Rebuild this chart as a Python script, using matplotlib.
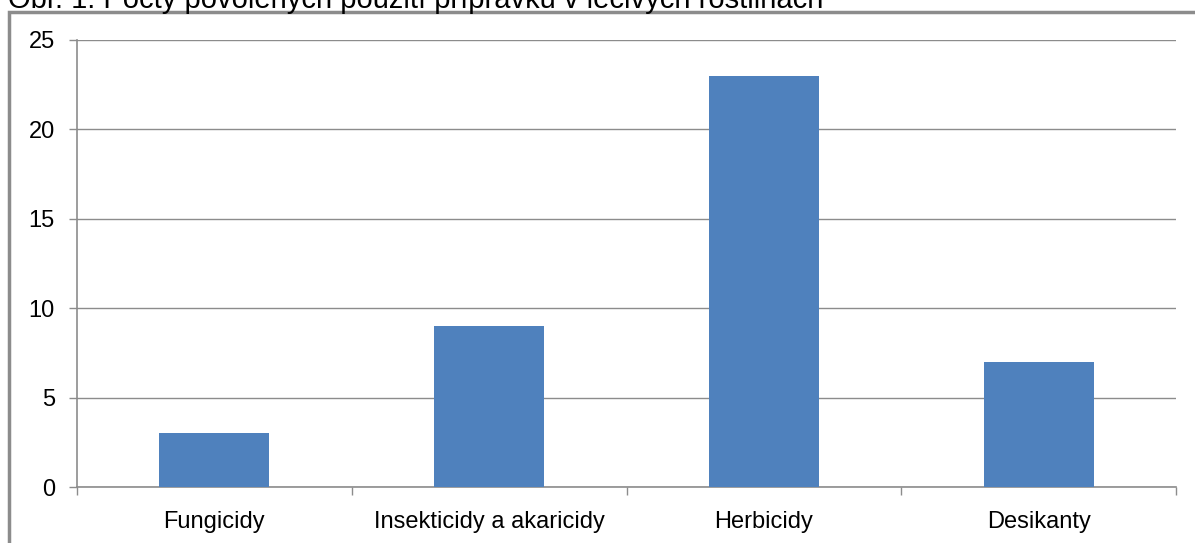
import matplotlib
matplotlib.use("Agg")
import matplotlib.pyplot as plt
from matplotlib.patches import Rectangle

# pocty povolenych pouziti pripravku
categories = ["Fungicidy", "Insekticidy a akaricidy", "Herbicidy", "Desikanty"]
counts = [3, 9, 23, 7]
yticks = [0, 5, 10, 15, 20, 25]
caption = "Obr. 1: Počty povolených použití přípravků v léčivých rostlinách"

plt.rcParams['font.family'] = ['Liberation Sans', 'DejaVu Sans']

fig = plt.figure(figsize=(11.95, 5.43), dpi=100)
W, H = 1195, 543

# caption, top half cut off by the figure edge
fig.text(8 / W, 1 - 8 / H, caption, fontsize=21, ha='left', va='baseline', color='black')

# chart frame
fig.patches.append(Rectangle((9 / W, -0.1), 1.2, (H - 12) / H + 0.1, transform=fig.transFigure,
                             fill=False, edgecolor='#8c8c8c', linewidth=2.5, zorder=0))

ax = fig.add_axes([77 / W, 1 - 487 / H, (1176 - 77) / W, (487 - 40) / H])
x = range(len(categories))
ax.bar(x, counts, width=0.4, color='#4f81bd', zorder=3)

ax.set_xlim(-0.5, len(categories) - 0.5)
ax.set_ylim(0, 25)
ax.set_yticks(yticks)
ax.yaxis.grid(True, color='#8c8c8c', linewidth=1)
ax.set_axisbelow(True)

ax.set_xticks([i - 0.5 for i in range(len(categories) + 1)], minor=False)
ax.set_xticklabels([])
ax.set_xticks(list(x), minor=True)
ax.set_xticklabels(categories, minor=True, fontsize=17)
ax.tick_params(axis='x', which='minor', length=0, pad=17)
ax.tick_params(axis='x', which='major', length=6, color='#8c8c8c', width=1)
ax.tick_params(axis='y', length=6, color='#8c8c8c', width=1, labelsize=17, pad=10)

for side in ['top', 'right']:
    ax.spines[side].set_visible(False)
for side in ['left', 'bottom']:
    ax.spines[side].set_color('#8c8c8c')
    ax.spines[side].set_linewidth(1.2)

fig.savefig("out.png", dpi=100)
